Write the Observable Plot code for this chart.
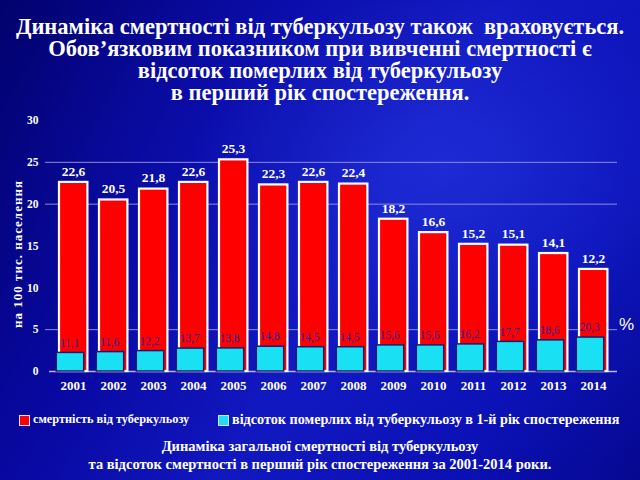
<!DOCTYPE html>
<html>
<head>
<meta charset="utf-8">
<script src="https://cdn.jsdelivr.net/npm/d3@7"></script>
<script src="https://cdn.jsdelivr.net/npm/@observablehq/plot@0.6"></script>
<style>
  html, body { margin: 0; padding: 0; }
  body {
    width: 640px; height: 480px; overflow: hidden; position: relative;
    font-family: "Liberation Serif", "Times New Roman", serif; color: #fff;
    background:
      radial-gradient(ellipse at 70% 35%, rgba(40,60,230,0.55) 0%, rgba(20,30,200,0.25) 40%, rgba(0,0,0,0) 70%),
      linear-gradient(120deg, #02026e 0%, #0808a0 30%, #1218c0 55%, #0a10b4 80%, #060890 100%);
  }
  .title {
    position: absolute; left: 0; top: 16px; width: 640px; text-align: center;
    font-size: 22.5px; font-weight: bold; line-height: 22px; white-space: pre;
  }
  #chart { position: absolute; left: 0; top: 110px; }
  .ylab {
    position: absolute; left: 18px; top: 254px; white-space: nowrap;
    transform: translate(-50%, -50%) rotate(-90deg);
    font-size: 13px; font-weight: bold; letter-spacing: 1px;
  }
  .pct { position: absolute; left: 619px; top: 315px; font-family: "Liberation Sans", Arial, sans-serif; font-size: 17px; }
  .legend { position: absolute; top: 412px; left: 0; width: 640px; height: 14px; font-weight: bold; }
  .legend .sw { position: absolute; top: 3px; width: 9px; height: 9px; border: 1px solid #dcdcff; }
  .legend .tx { position: absolute; top: 0; line-height: 14px; white-space: nowrap; }
  .caption {
    position: absolute; left: 0; top: 437px; width: 640px; text-align: center;
    font-size: 14.5px; font-weight: bold; line-height: 18px;
  }
</style>
</head>
<body>
<div class="title">Динаміка смертності від туберкульозу також  враховується.
Обов’язковим показником при вивченні смертності є
відсоток померлих від туберкульозу
в перший рік спостереження.</div>
<div id="chart"></div>
<div class="ylab">на 100 тис. населення</div>
<div class="pct">%</div>
<div class="legend"></div>
<div class="caption">Динаміка загальної смертності від туберкульозу<br>та відсоток смертності в перший рік спостереження за 2001-2014 роки.</div>
<script>
// ---- data ----
const years = ["2001","2002","2003","2004","2005","2006","2007","2008","2009","2010","2011","2012","2013","2014"];
const mortality = [22.6, 20.5, 21.8, 22.6, 25.3, 22.3, 22.6, 22.4, 18.2, 16.6, 15.2, 15.1, 14.1, 12.2];
const firstYearPct = [11.1, 11.6, 12.2, 13.7, 13.8, 14.8, 14.5, 14.5, 15.6, 15.6, 16.2, 17.7, 18.6, 20.3];
const yTicks = [0, 5, 10, 15, 20, 25, 30];
const gridValues = [5, 20, 25];
const pctScaleDivisor = 5; // percent series drawn on a compressed secondary scale
const legendLabels = ["смертність від туберкульозу", "відсоток померлих від туберкульозу в 1-й рік спостереження"];

const data = years.map((y, i) => ({year: y, rate: mortality[i], pct: firstYearPct[i]}));
const fmt = v => d3.format(".1f")(v).replace(".", ",");
const serif = "'Liberation Serif', 'Times New Roman', serif";

const chart = Plot.plot({
  width: 640, height: 290,
  marginLeft: 49, marginRight: 23, marginTop: 10, marginBottom: 29,
  style: {background: "transparent", color: "#fff", fontFamily: serif},
  x: {type: "band", domain: years, padding: 0},
  y: {domain: [0, 30]},
  marks: [
    Plot.ruleY(gridValues, {stroke: "#8c8cd8", strokeWidth: 1, insetLeft: -4}),
    Plot.ruleY([0], {stroke: "#b8b8dc", strokeWidth: 1.5}),
    Plot.axisY({ticks: yTicks, tickSize: 0, tickPadding: 11, fill: "#fff", fontWeight: "bold", fontSize: 11.5, label: null}),
    Plot.axisX({tickSize: 0, tickPadding: 9, fill: "#fff", fontWeight: "bold", fontSize: 13, label: null}),
    Plot.barY(data, {x: "year", y: "rate", fill: "#ff0000", stroke: "#ffffff", strokeWidth: 2.2, insetLeft: 6, insetRight: 5.6}),
    Plot.barY(data, {x: "year", y: d => d.pct / pctScaleDivisor, fill: "#19e1f3", stroke: "#1a1a72", strokeWidth: 1.5, insetLeft: 3.3, insetRight: 9.3}),
    Plot.text(data, {x: "year", y: "rate", text: d => fmt(d.rate), dy: -11, fill: "#fff", fontWeight: "bold", fontSize: 13.5}),
    Plot.text(data, {x: "year", y: d => d.pct / pctScaleDivisor, text: d => fmt(d.pct), dy: -10, dx: -4, fill: "#26269a", fontSize: 11.5})
  ]
});
document.getElementById("chart").appendChild(chart);

// legend
const leg = document.querySelector(".legend");
const items = [
  {label: legendLabels[0], color: "#ff0000", x: 19, size: 12.3},
  {label: legendLabels[1], color: "#19e1f3", x: 218, size: 14.2}
];
items.forEach(it => {
  const sw = document.createElement("div");
  sw.className = "sw"; sw.style.left = it.x + "px"; sw.style.background = it.color;
  leg.appendChild(sw);
  const tx = document.createElement("div");
  tx.className = "tx"; tx.style.left = (it.x + 14) + "px"; tx.style.fontSize = it.size + "px";
  tx.textContent = it.label;
  leg.appendChild(tx);
});
</script>
</body>
</html>
